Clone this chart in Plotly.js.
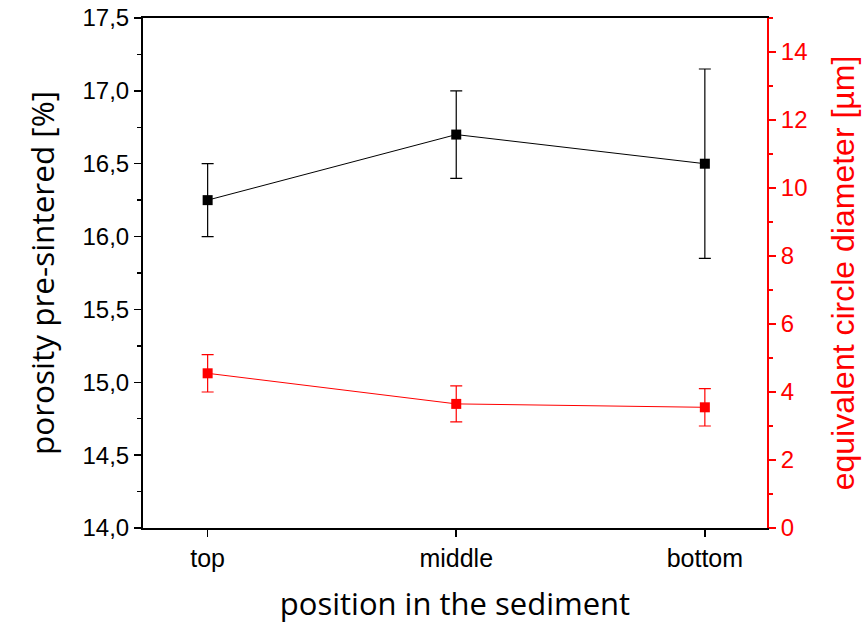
<!DOCTYPE html>
<html>
<head>
<meta charset="utf-8">
<script src="https://cdn.plot.ly/plotly-3.0.1.min.js"></script>
<style>html,body{margin:0;padding:0;background:#fff;}#chart{width:867px;height:627px;}</style>
</head>
<body>
<div id="chart"></div>
<script>
const categories = ["top", "middle", "bottom"];
const positions = [0, 1, 2];
const porosity = [16.25, 16.7, 16.5];
const porosityErr = [0.25, 0.3, 0.65];
const diameter = [4.55, 3.65, 3.55];
const diameterErr = [0.55, 0.53, 0.55];

const traces = [
  {
    x: positions, y: porosity, type: 'scatter', mode: 'lines+markers',
    line: {color: '#000', width: 1},
    marker: {symbol: 'square', size: 10, color: '#000'},
    error_y: {type: 'data', array: porosityErr, visible: true, color: '#000', thickness: 1.2, width: 6},
    yaxis: 'y', showlegend: false
  },
  {
    x: positions, y: diameter, type: 'scatter', mode: 'lines+markers',
    line: {color: '#ff0000', width: 1},
    marker: {symbol: 'square', size: 10, color: '#ff0000'},
    error_y: {type: 'data', array: diameterErr, visible: true, color: '#ff0000', thickness: 1.2, width: 6},
    yaxis: 'y2', showlegend: false
  }
];

const layout = {
  width: 867, height: 627,
  margin: {l: 143, r: 100, t: 18, b: 99},
  paper_bgcolor: '#fff', plot_bgcolor: '#fff',
  separators: ', ',
  font: {family: 'Liberation Sans, Arial, sans-serif', color: '#000', size: 24},
  xaxis: {
    range: [-0.26, 2.25],
    tickvals: positions, ticktext: categories,
    showgrid: false, zeroline: false,
    showline: true, linecolor: '#000', linewidth: 2, mirror: true,
    ticks: 'outside', ticklen: 7, tickwidth: 1.5, tickcolor: '#000',
    tickfont: {size: 25},
    title: {text: 'position in the sediment', font: {family: 'Open Sans, sans-serif', size: 31}, standoff: 22}
  },
  yaxis: {
    range: [14, 17.5], dtick: 0.5, tick0: 14, tickformat: '.1f',
    showgrid: false, zeroline: false,
    showline: true, linecolor: '#000', linewidth: 2,
    ticks: 'outside', ticklen: 7, tickwidth: 1.5, tickcolor: '#000',
    minor: {ticks: 'outside', dtick: 0.25, ticklen: 4, tickwidth: 1.5, tickcolor: '#000'},
    tickfont: {size: 24},
    title: {text: 'porosity pre-sintered [%]', font: {family: 'Open Sans, sans-serif', size: 31.5}, standoff: 18}
  },
  yaxis2: {
    range: [0, 15], dtick: 2, tick0: 0,
    overlaying: 'y', side: 'right',
    showgrid: false, zeroline: false,
    showline: true, linecolor: '#ff0000', linewidth: 2,
    ticks: 'outside', ticklen: 7, tickwidth: 1.5, tickcolor: '#ff0000',
    minor: {ticks: 'outside', dtick: 1, ticklen: 4, tickwidth: 1.5, tickcolor: '#ff0000'},
    tickfont: {size: 24, color: '#ff0000'},
    title: {text: 'equivalent circle diameter [µm]', font: {family: 'Liberation Sans, Arial, sans-serif', size: 32, color: '#ff0000'}, standoff: 25}
  }
};

Plotly.newPlot('chart', traces, layout, {displayModeBar: false, staticPlot: true});
</script>
</body>
</html>
